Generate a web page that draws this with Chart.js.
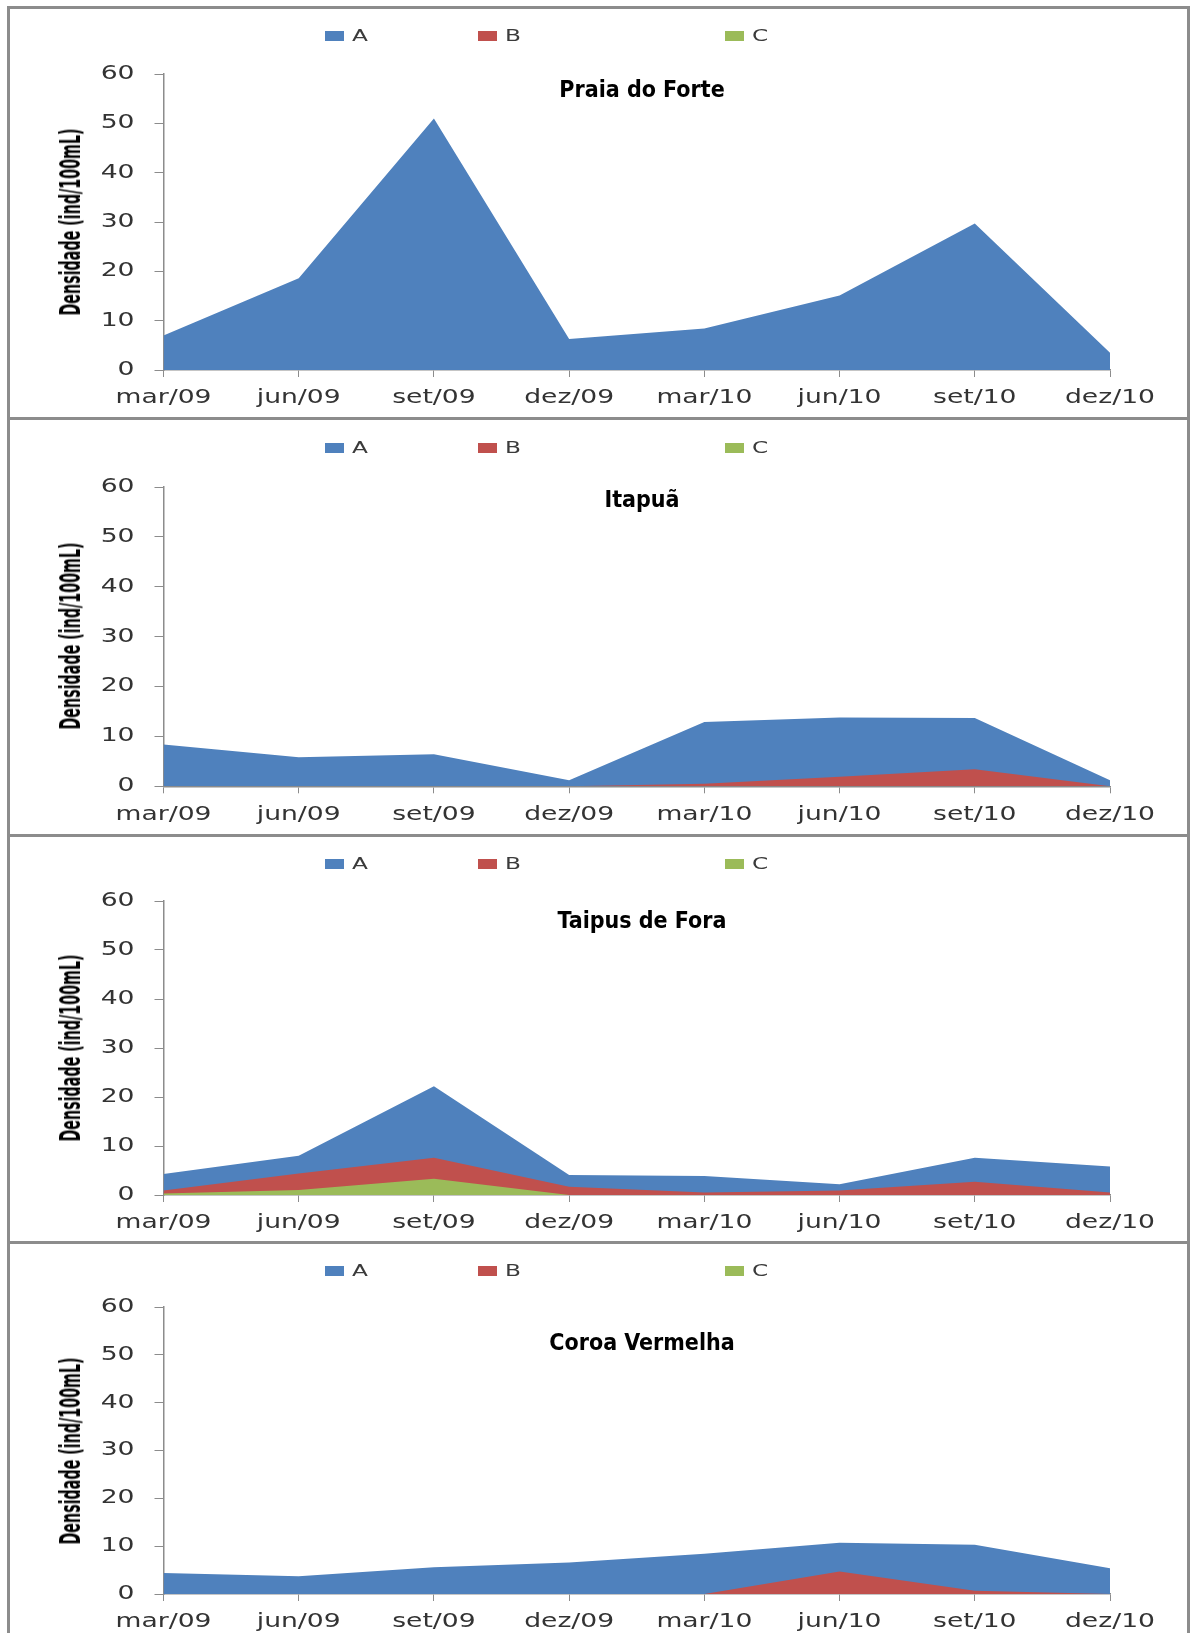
<!DOCTYPE html>
<html>
<head>
<meta charset="utf-8">
<script src="https://cdn.jsdelivr.net/npm/chart.js@4.4.1/dist/chart.umd.min.js"></script>
<style>
  body { margin: 0; background: #fff; width: 1191px; height: 1633px; position: relative; overflow: hidden; }
  .frame { position: absolute; left: 7px; width: 1183px; box-sizing: border-box; border: 3px solid #8c8c8c; }
  .wrap { position: absolute; left: 0; width: 1191px; }
  .title { position: absolute; transform: translate(-50%, -50%); white-space: nowrap; line-height: 1;
           font-family: 'DejaVu Sans Condensed', 'DejaVu Sans', sans-serif; font-stretch: condensed;
           font-weight: bold; font-size: 23px; color: #000; }
  .ytitle { position: absolute; white-space: nowrap; line-height: 1;
            font-family: 'DejaVu Sans Condensed', 'DejaVu Sans', sans-serif; font-stretch: condensed;
            font-weight: bold; font-size: 28px; color: #000; }
  .key { position: absolute; width: 19px; height: 10px; }
  .lab { position: absolute; font: 15px 'DejaVu Sans', sans-serif; color: #3b3b3b; line-height: 18px;
         transform: scaleX(1.55); transform-origin: left center; }
</style>
</head>
<body>
<script>
// sampling dates (x axis)
const months = ['mar/09', 'jun/09', 'set/09', 'dez/09', 'mar/10', 'jun/10', 'set/10', 'dez/10'];
const seriesNames = ['A', 'B', 'C'];
const seriesColors = ['#4F81BD', '#C0504D', '#9BBB59'];
const yMax = 60;
const yStep = 10;
const yTitle = 'Densidade (ind/100mL)';

// Praia do Forte
const praiaA = [7.0, 18.6, 51.0, 6.3, 8.4, 15.1, 29.7, 3.5];
const praiaB = [0, 0, 0, 0, 0, 0, 0, 0];
const praiaC = [0, 0, 0, 0, 0, 0, 0, 0];

// Itapuã
const itapuaA = [8.4, 5.8, 6.4, 1.2, 12.9, 13.8, 13.7, 1.2];
const itapuaB = [0, 0, 0, 0, 0.5, 1.9, 3.4, 0];
const itapuaC = [0, 0, 0, 0, 0, 0, 0, 0];

// Taipus de Fora
const taipusA = [4.3, 8.0, 22.2, 4.1, 3.9, 2.2, 7.6, 5.8];
const taipusB = [0.9, 4.4, 7.6, 1.7, 0.5, 0.9, 2.7, 0.5];
const taipusC = [0.3, 1.0, 3.3, 0, 0, 0, 0, 0];

// Coroa Vermelha
const coroaA = [4.4, 3.7, 5.6, 6.6, 8.4, 10.7, 10.3, 5.4];
const coroaB = [0, 0, 0, 0, 0, 4.7, 0.7, 0];
const coroaC = [0, 0, 0, 0, 0, 0, 0, 0];

const sites = [
  { name: 'Praia do Forte', series: [praiaA, praiaB, praiaC] },
  { name: 'Itapuã', series: [itapuaA, itapuaB, itapuaC] },
  { name: 'Taipus de Fora', series: [taipusA, taipusB, taipusC] },
  { name: 'Coroa Vermelha', series: [coroaA, coroaB, coroaC] }
];

// page layout for each panel (pixels)
const layout = [
  { frameTop: 6,    frameH: 414, areaTop: 74,     areaBottom: 370,    titleY: 89,     legendY: 36 },
  { frameTop: 417,  frameH: 420, areaTop: 486.7,  areaBottom: 786,    titleY: 499,    legendY: 447.5 },
  { frameTop: 834,  frameH: 410, areaTop: 901,    areaBottom: 1195,   titleY: 919.5,  legendY: 863.5 },
  { frameTop: 1241, frameH: 420, areaTop: 1307.3, areaBottom: 1594.3, titleY: 1342,   legendY: 1270.5 }
];
const legendX = [325, 478, 725];
const padTop = 40;
const xAxisHeight = 40;

// the original tick font is wide: stretch each tick label around its anchor
const wideTicks = {
  id: 'wideTicks',
  beforeDraw(chart) {
    Object.values(chart.scales).forEach(scale => {
      if (scale.$wide) return;
      const draw = scale.drawLabels.bind(scale);
      scale.drawLabels = area => {
        const ctx = chart.ctx;
        const fill = ctx.fillText;
        ctx.fillText = function (text, x, y) {
          this.save();
          this.translate(x, y);
          this.scale(1.4, 1);
          fill.call(this, text, 0, 0);
          this.restore();
        };
        draw(area);
        delete ctx.fillText;
      };
      scale.$wide = true;
    });
  }
};

const axisGray = '#8c8c8c';
const tickFont = { family: "'DejaVu Sans', sans-serif", size: 19 };

function addPanel(site, pos) {
  const frame = document.createElement('div');
  frame.className = 'frame';
  frame.style.top = pos.frameTop + 'px';
  frame.style.height = pos.frameH + 'px';
  document.body.appendChild(frame);

  const wrap = document.createElement('div');
  wrap.className = 'wrap';
  wrap.style.top = (pos.areaTop - padTop) + 'px';
  wrap.style.height = (pos.areaBottom - pos.areaTop + padTop + xAxisHeight) + 'px';
  const canvas = document.createElement('canvas');
  wrap.appendChild(canvas);
  document.body.appendChild(wrap);

  // legend
  seriesNames.forEach((name, i) => {
    const key = document.createElement('div');
    key.className = 'key';
    key.style.left = legendX[i] + 'px';
    key.style.top = (pos.legendY - 5) + 'px';
    key.style.background = seriesColors[i];
    document.body.appendChild(key);
    const lab = document.createElement('div');
    lab.className = 'lab';
    lab.style.left = (legendX[i] + 27) + 'px';
    lab.style.top = (pos.legendY - 9) + 'px';
    lab.textContent = name;
    document.body.appendChild(lab);
  });

  const title = document.createElement('div');
  title.className = 'title';
  title.style.left = '642px';
  title.style.top = pos.titleY + 'px';
  title.textContent = site.name;
  document.body.appendChild(title);

  // y axis title, condensed to the length of the original
  const yt = document.createElement('div');
  yt.className = 'ytitle';
  yt.textContent = yTitle;
  document.body.appendChild(yt);
  const squeeze = 187 / yt.offsetWidth;
  yt.style.left = '71px';
  yt.style.top = ((pos.areaTop + pos.areaBottom) / 2) + 'px';
  yt.style.transform = 'translate(-50%, -50%) rotate(-90deg) scaleX(' + squeeze + ')';

  new Chart(canvas, {
    type: 'line',
    data: {
      labels: months,
      datasets: site.series.map((values, i) => ({
        label: seriesNames[i],
        data: values,
        backgroundColor: seriesColors[i],
        borderColor: seriesColors[i],
        fill: 'origin',
        order: 3 - i   // A drawn at the back, C in front
      }))
    },
    options: {
      responsive: true,
      maintainAspectRatio: false,
      animation: false,
      layout: { padding: { top: padTop, left: 50, right: 81, bottom: 0 } },
      elements: {
        point: { radius: 0, borderWidth: 0 },
        line: { tension: 0, borderWidth: 0 }
      },
      plugins: {
        legend: { display: false },
        tooltip: { enabled: false }
      },
      scales: {
        x: {
          offset: false,
          grid: { drawOnChartArea: false, drawTicks: true, tickLength: 7, color: axisGray, offset: false },
          border: { display: true, color: axisGray, width: 1.5 },
          ticks: { autoSkip: false, maxRotation: 0, padding: 10, color: '#333', font: tickFont },
          afterFit: s => { s.height = xAxisHeight; }
        },
        y: {
          min: 0,
          max: yMax,
          grid: { drawOnChartArea: false, drawTicks: true, tickLength: 9, color: axisGray },
          border: { display: true, color: axisGray, width: 1.5 },
          ticks: { stepSize: yStep, padding: 20, color: '#333', font: tickFont },
          afterFit: s => { s.width = 113.5; }
        }
      }
    },
    plugins: [wideTicks]
  });
}

sites.forEach((site, i) => addPanel(site, layout[i]));
</script>
</body>
</html>
